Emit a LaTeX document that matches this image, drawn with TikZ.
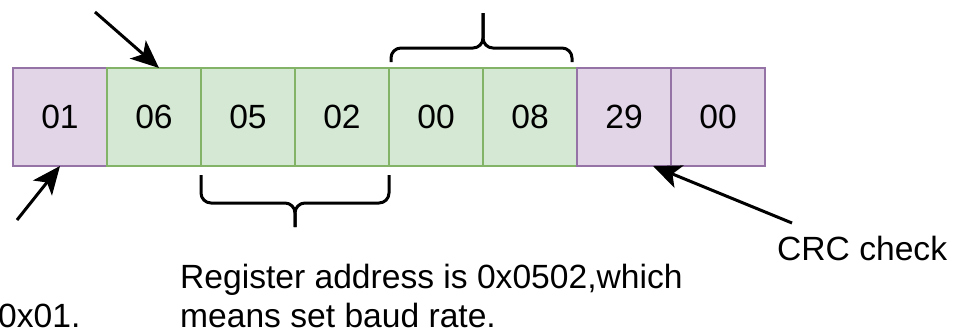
\documentclass[tikz,border=0pt]{standalone}
\usepackage{fontspec}
\setmainfont{Liberation Sans}
\definecolor{ctrlpurple}{HTML}{E1D5E7}
\definecolor{ctrlpurpleline}{HTML}{9673A6}
\definecolor{datagreen}{HTML}{D5E8D4}
\definecolor{datagreenline}{HTML}{82B366}
\usetikzlibrary{arrows.meta, positioning}

\begin{document}
\begin{tikzpicture}[x=1pt, y=-1pt,
  byte/.style={minimum width=94pt, minimum height=98pt, inner sep=0pt, outer sep=0pt, line width=2.5pt, font=\fontsize{33.6}{39}\selectfont},
  purplebyte/.style={byte, draw=ctrlpurpleline, fill=ctrlpurple},
  greenbyte/.style={byte, draw=datagreenline, fill=datagreen},
  pointer/.style={line width=3pt, -{Stealth[length=28pt, width=24pt, inset=7pt]}},
  bracket/.style={line width=3pt, rounded corners=10pt},
  note/.style={anchor=base west, inner sep=0pt, align=left, font=\fontsize{33.6}{39}\selectfont}]

  \useasboundingbox (0,0) rectangle (958,333);

  % frame bytes
  \node[purplebyte] (b1) at (60,117) {01};
  \node[greenbyte, right=0pt of b1] (b2) {06};
  \node[greenbyte, right=0pt of b2] (b3) {05};
  \node[greenbyte, right=0pt of b3] (b4) {02};
  \node[greenbyte, right=0pt of b4] (b5) {00};
  \node[greenbyte, right=0pt of b5] (b6) {08};
  \node[purplebyte, right=0pt of b6] (b7) {29};
  \node[purplebyte, right=0pt of b7] (b8) {00};

  % captions
  \node[note] (slave) at (-2,327) {0x01.};
  \node[note] (reg) at (180,327) {Register address is 0x0502,which\\means set baud rate.};
  \node[note] (crc) at (777,260) {CRC check};

  % pointers
  \coordinate (fn) at (95,12);
  \draw[pointer] (fn) -- ([xshift=5pt]b2.north);
  \coordinate (addr) at (17,220);
  \draw[pointer] (addr) -- (b1.south);
  \coordinate (crcfoot) at (792,223);
  \draw[pointer] (crcfoot) -- ([xshift=-18pt]b7.south east);

  % braces
  \draw[bracket] ([xshift=2pt, yshift=6pt]b5.north west) |- ([yshift=20pt]b5.north east) -- ([yshift=55pt]b5.north east);
  \draw[bracket] ([xshift=-5pt, yshift=6pt]b6.north east) |- ([yshift=20pt]b5.north east) -- ([yshift=55pt]b5.north east);
  \draw[bracket] ([yshift=-9pt]b3.south west) |- ([yshift=-37pt]b3.south east) -- ([yshift=-61pt]b3.south east);
  \draw[bracket] ([yshift=-9pt]b4.south east) |- ([yshift=-37pt]b3.south east) -- ([yshift=-61pt]b3.south east);
\end{tikzpicture}
\end{document}
